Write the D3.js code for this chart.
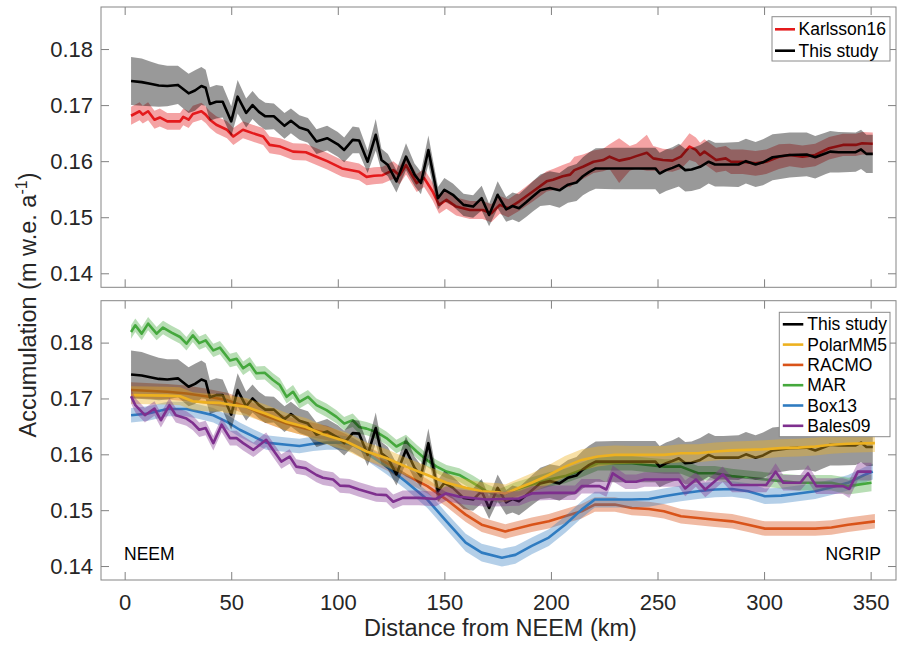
<!DOCTYPE html>
<html lang="en">
<head>
<meta charset="UTF-8">
<title>Accumulation from NEEM to NGRIP</title>
<script src="https://d3js.org/d3.v7.min.js"></script>
<style>
  body { margin: 0; background: #fff; font-family: "Liberation Sans", Arial, sans-serif; }
  .tick text { fill: #262626; font-size: 22px; font-family: "Liberation Sans", Arial, sans-serif; }
  .tick line { stroke: #808080; }
  .legend text { font-size: 17.5px; fill: #000; }
</style>
</head>
<body>
<svg id="chart" width="897" height="652"></svg>
<script>
// [distance km, accumulation m w.e./a, half-width of shaded band]
const thisStudy = [
  [3,0.1743,0.0043],[8,0.1741,0.0042],[12,0.1738,0.0040],[16,0.1735,0.0038],[20,0.1734,0.0036],
  [25,0.1736,0.0034],[30,0.1721,0.0035],[33,0.1726,0.0036],[36,0.1734,0.0034],[38,0.1731,0.0032],
  [40,0.1702,0.0030],[43,0.1706,0.0030],[46,0.1706,0.0028],[50,0.1671,0.0027],[53,0.1715,0.0030],
  [57,0.1686,0.0026],[60,0.1700,0.0025],[63,0.1688,0.0024],[66,0.1680,0.0024],[70,0.1680,0.0023],
  [75,0.1663,0.0023],[78,0.1672,0.0022],[82,0.1660,0.0022],[86,0.1655,0.0022],[90,0.1635,0.0022],
  [95,0.1641,0.0022],[100,0.1630,0.0022],[103,0.1620,0.0022],[107,0.1638,0.0024],[110,0.1637,0.0023],
  [114,0.1599,0.0020],[117.8,0.1647,0.0028],[120.5,0.1602,0.0020],[123.5,0.1593,0.0020],[127.5,0.1564,0.0020],
  [132,0.1608,0.0024],[136,0.1576,0.0020],[139,0.1561,0.0020],[142.5,0.1620,0.0026],[147,0.1534,0.0020],
  [150,0.1549,0.0021],[154,0.1540,0.0020],[159,0.1522,0.0020],[163.5,0.1519,0.0020],[167.5,0.1534,0.0022],
  [171,0.1504,0.0020],[175,0.1540,0.0024],[179,0.1514,0.0022],[182,0.1520,0.0024],[185,0.1516,0.0025],
  [188.5,0.1527,0.0026],[191.5,0.1537,0.0027],[195,0.1548,0.0028],[199.5,0.1552,0.0030],[204,0.1548,0.0031],
  [208,0.1558,0.0032],[212,0.1562,0.0033],[215,0.1573,0.0034],[218,0.1581,0.0035],[221,0.1587,0.0036],
  [230,0.1587,0.0037],[240,0.1587,0.0037],[249,0.1587,0.0037],[251,0.1578,0.0037],[254,0.1584,0.0037],
  [257,0.1588,0.0037],[260,0.1593,0.0038],[263,0.1584,0.0038],[266,0.1585,0.0038],[270,0.1590,0.0039],
  [274,0.1599,0.0039],[277,0.1594,0.0039],[281,0.1594,0.0039],[288,0.1594,0.0040],[291.5,0.1600,0.0040],
  [296,0.1594,0.0040],[299.5,0.1598,0.0041],[304,0.1607,0.0041],[312,0.1611,0.0040],[320,0.1612,0.0039],
  [324,0.1607,0.0038],[329,0.1614,0.0037],[331,0.1617,0.0037],[335,0.1616,0.0036],[343,0.1616,0.0035],
  [345.5,0.1621,0.0035],[348,0.1613,0.0034],[351,0.1613,0.0034]
];

const karlsson16 = [
  [3,0.1681,0.0016],[7,0.1689,0.0016],[8.5,0.1683,0.0016],[11,0.1689,0.0016],[14,0.1674,0.0016],
  [16.5,0.1678,0.0016],[20,0.1671,0.0015],[26,0.1671,0.0015],[27.5,0.1679,0.0015],[30,0.1674,0.0015],
  [32,0.1684,0.0015],[36,0.1689,0.0015],[38,0.1683,0.0015],[40,0.1674,0.0015],[43,0.1665,0.0015],
  [48,0.1656,0.0015],[51,0.1644,0.0015],[55.5,0.1656,0.0015],[60,0.1650,0.0015],[65,0.1644,0.0015],
  [68,0.1629,0.0015],[73,0.1626,0.0015],[79,0.1617,0.0015],[85,0.1616,0.0015],[90,0.1608,0.0015],
  [95,0.1600,0.0015],[102,0.1587,0.0015],[110,0.1581,0.0015],[113.5,0.1572,0.0015],[117,0.1574,0.0015],
  [121,0.1575,0.0015],[126,0.1584,0.0016],[129,0.1575,0.0016],[132,0.1593,0.0017],[137,0.1561,0.0016],
  [140.5,0.1570,0.0016],[144.5,0.1546,0.0016],[147.5,0.1522,0.0016],[151,0.1531,0.0016],[155.5,0.1519,0.0016],
  [162,0.1513,0.0016],[168,0.1513,0.0016],[172,0.1507,0.0016],[176,0.1522,0.0016],[180,0.1516,0.0016],
  [185,0.1528,0.0017],[191.5,0.1546,0.0018],[198,0.1564,0.0018],[201,0.1567,0.0019],[205.5,0.1573,0.0020],
  [209,0.1576,0.0022],[211,0.1584,0.0024],[215,0.1590,0.0022],[220,0.1599,0.0020],[224.5,0.1602,0.0020],
  [227.5,0.1608,0.0022],[232,0.1601,0.0040],[237,0.1605,0.0022],[240,0.1609,0.0022],[245,0.1615,0.0032],
  [248,0.1605,0.0022],[252.5,0.1602,0.0020],[257,0.1601,0.0020],[261,0.1608,0.0022],[265,0.1626,0.0024],
  [268,0.1620,0.0022],[270,0.1611,0.0022],[272,0.1617,0.0022],[277.5,0.1602,0.0022],[282,0.1605,0.0022],
  [284.5,0.1599,0.0022],[290,0.1599,0.0022],[296,0.1596,0.0022],[301,0.1599,0.0022],[307,0.1608,0.0022],
  [312,0.1611,0.0020],[318,0.1608,0.0020],[324,0.1611,0.0020],[330.5,0.1623,0.0020],[337,0.1629,0.0020],
  [343,0.1629,0.0020],[346,0.1632,0.0020],[351,0.1631,0.0020]
];

const polarMM5 = [
  [3,0.1706,0.0016],[20,0.1705,0.0016],[26,0.1704,0.0016],[32,0.1695,0.0016],[38,0.1693,0.0016],
  [45,0.1692,0.0016],[51,0.1688,0.0016],[57,0.1685,0.0016],[66,0.1673,0.0016],[76,0.1658,0.0016],
  [85,0.1649,0.0016],[93,0.1636,0.0016],[104,0.1623,0.0016],[113.5,0.1605,0.0016],[123,0.1593,0.0016],
  [132,0.1578,0.0016],[142,0.1563,0.0016],[151,0.1549,0.0016],[160,0.1540,0.0016],[167.5,0.1534,0.0016],
  [175.5,0.1532,0.0016],[178.6,0.1530,0.0016],[183,0.1537,0.0016],[191,0.1549,0.0017],[199,0.1563,0.0018],
  [206.6,0.1578,0.0019],[214.4,0.1590,0.0019],[222,0.1596,0.0018],[230,0.1599,0.0017],[238,0.1599,0.0016],
  [246,0.1599,0.0016],[253,0.1599,0.0016],[261,0.1602,0.0016],[269,0.1602,0.0016],[277,0.1605,0.0016],
  [285,0.1607,0.0016],[292.5,0.1608,0.0016],[300,0.1609,0.0016],[308,0.1611,0.0016],[316,0.1612,0.0016],
  [324,0.1614,0.0016],[331.6,0.1617,0.0016],[339.4,0.1619,0.0016],[352,0.1620,0.0016]
];

const racmo = [
  [3,0.1715,0.0014],[20,0.1712,0.0014],[29,0.1709,0.0014],[38,0.1704,0.0014],[48,0.1697,0.0013],
  [57,0.1685,0.0013],[66,0.1669,0.0013],[76,0.1655,0.0013],[85,0.1646,0.0013],[95,0.1638,0.0013],
  [104,0.1623,0.0013],[113.5,0.1602,0.0013],[123,0.1584,0.0013],[132,0.1563,0.0013],[142,0.1543,0.0013],
  [151,0.1519,0.0013],[160,0.1492,0.0013],[167.5,0.1474,0.0013],[178.6,0.1462,0.0013],[191,0.1474,0.0013],
  [199,0.1480,0.0013],[206.6,0.1489,0.0013],[214.4,0.1498,0.0013],[220.6,0.1510,0.0013],[230,0.1510,0.0013],
  [238,0.1504,0.0013],[246,0.1502,0.0013],[253,0.1498,0.0013],[261,0.1489,0.0013],[269,0.1486,0.0013],
  [277,0.1483,0.0013],[285,0.1480,0.0013],[292.5,0.1474,0.0013],[300.4,0.1467,0.0013],[308,0.1467,0.0013],
  [316,0.1467,0.0013],[324,0.1467,0.0013],[331.6,0.1469,0.0013],[339.4,0.1474,0.0013],[352,0.1480,0.0013]
];

const mar = [
  [3,0.1819,0.0012],[5,0.1831,0.0012],[8,0.1816,0.0012],[11,0.1834,0.0012],[15,0.1816,0.0012],
  [18,0.1827,0.0012],[22,0.1818,0.0012],[26,0.1810,0.0012],[29,0.1798,0.0012],[32,0.1813,0.0012],
  [35,0.1799,0.0012],[38,0.1804,0.0012],[41.6,0.1786,0.0012],[44.7,0.1791,0.0012],[49.4,0.1768,0.0012],
  [52.5,0.1771,0.0012],[55.6,0.1754,0.0012],[58.7,0.1762,0.0012],[61.8,0.1745,0.0012],[65.7,0.1746,0.0012],
  [69.6,0.1733,0.0012],[72.8,0.1724,0.0012],[76,0.1703,0.0012],[79,0.1712,0.0012],[82,0.1694,0.0012],
  [86,0.1703,0.0012],[90,0.1688,0.0012],[94.7,0.1679,0.0012],[99.4,0.1667,0.0012],[103,0.1655,0.0012],
  [107,0.1661,0.0012],[110,0.1649,0.0012],[113.5,0.1646,0.0012],[118,0.1640,0.0012],[122.8,0.1629,0.0012],
  [127.5,0.1614,0.0012],[132,0.1623,0.0012],[137,0.1605,0.0012],[141.7,0.1590,0.0012],[146.4,0.1578,0.0012],
  [151,0.1569,0.0012],[157,0.1563,0.0012],[163.4,0.1549,0.0013],[169.7,0.1534,0.0013],[175.5,0.1525,0.0013],
  [183.3,0.1537,0.0013],[191,0.1546,0.0013],[199,0.1555,0.0013],[206.6,0.1561,0.0013],[214.4,0.1572,0.0013],
  [222,0.1584,0.0013],[230,0.1584,0.0013],[238,0.1584,0.0013],[245.6,0.1581,0.0013],[253.4,0.1578,0.0013],
  [261,0.1578,0.0013],[269,0.1566,0.0013],[277,0.1566,0.0013],[284.7,0.1561,0.0013],[292.5,0.1558,0.0013],
  [300.4,0.1555,0.0013],[308,0.1552,0.0013],[316,0.1549,0.0014],[324,0.1549,0.0014],[331.6,0.1549,0.0014],
  [339.4,0.1543,0.0015],[350.4,0.1549,0.0015]
];

const box13 = [
  [3,0.1670,0.0013],[11,0.1673,0.0013],[20,0.1681,0.0013],[29,0.1681,0.0013],[35,0.1676,0.0013],
  [41.6,0.1670,0.0013],[48,0.1658,0.0013],[54,0.1644,0.0013],[60.4,0.1632,0.0013],[66.4,0.1621,0.0013],
  [76,0.1617,0.0013],[82,0.1615,0.0013],[88.5,0.1619,0.0013],[95,0.1621,0.0013],[101,0.1621,0.0013],
  [107,0.1617,0.0013],[113.5,0.1602,0.0013],[123,0.1578,0.0014],[132,0.1551,0.0014],[142,0.1519,0.0015],
  [151,0.1480,0.0015],[160,0.1442,0.0016],[167.5,0.1424,0.0016],[177,0.1415,0.0016],[183.3,0.1420,0.0016],
  [191,0.1436,0.0015],[199,0.1451,0.0015],[206.6,0.1474,0.0015],[214.4,0.1501,0.0015],[220.6,0.1519,0.0014],
  [230,0.1519,0.0014],[238,0.1519,0.0014],[246,0.1520,0.0014],[253,0.1525,0.0014],[261,0.1530,0.0014],
  [269,0.1534,0.0014],[277,0.1537,0.0014],[285,0.1538,0.0014],[292.5,0.1534,0.0014],[300.4,0.1525,0.0014],
  [308,0.1526,0.0014],[316,0.1530,0.0014],[324,0.1534,0.0014],[331.6,0.1541,0.0014],[339.4,0.1549,0.0014],
  [347,0.1563,0.0014],[351,0.1569,0.0014]
];

const bales09 = [
  [3,0.1704,0.0013],[5,0.1688,0.0013],[9.5,0.1670,0.0013],[14,0.1682,0.0013],[17,0.1661,0.0013],
  [21,0.1688,0.0013],[24,0.1670,0.0013],[29,0.1664,0.0013],[32,0.1656,0.0013],[35,0.1644,0.0013],
  [38,0.1647,0.0013],[41.6,0.1620,0.0013],[45.5,0.1653,0.0013],[49.4,0.1629,0.0013],[52.5,0.1629,0.0013],
  [55.6,0.1620,0.0013],[60.4,0.1608,0.0013],[66.4,0.1626,0.0013],[69.6,0.1608,0.0013],[73.5,0.1587,0.0013],
  [77.4,0.1596,0.0013],[80.5,0.1578,0.0013],[85,0.1575,0.0013],[90,0.1563,0.0013],[93,0.1558,0.0013],
  [97.8,0.1555,0.0013],[101,0.1544,0.0013],[105.5,0.1543,0.0013],[110,0.1537,0.0013],[118,0.1528,0.0013],
  [122.8,0.1527,0.0013],[126,0.1515,0.0013],[130.5,0.1522,0.0013],[138,0.1522,0.0013],[146,0.1520,0.0013],
  [150.8,0.1530,0.0013],[157,0.1524,0.0013],[169.7,0.1519,0.0013],[177,0.1520,0.0013],[185,0.1521,0.0013],
  [191,0.1530,0.0013],[199,0.1531,0.0013],[206.6,0.1531,0.0013],[211.3,0.1531,0.0013],[214.4,0.1543,0.0013],
  [222.8,0.1543,0.0013],[226,0.1537,0.0013],[229,0.1566,0.0014],[235,0.1551,0.0013],[240,0.1551,0.0013],
  [244,0.1555,0.0013],[260,0.1555,0.0013],[263,0.1539,0.0014],[268,0.1555,0.0013],[272.4,0.1537,0.0014],
  [280.6,0.1564,0.0014],[285,0.1545,0.0013],[301,0.1545,0.0013],[305.4,0.1569,0.0015],[309,0.1549,0.0014],
  [317,0.1549,0.0014],[320.6,0.1566,0.0015],[324.5,0.1543,0.0014],[337,0.1543,0.0014],[340,0.1538,0.0016],
  [344,0.1569,0.0016],[350.4,0.1569,0.0016]
];

const xTicks = [0, 50, 100, 150, 200, 250, 300, 350];
const yTicks = [0.14, 0.15, 0.16, 0.17, 0.18];

const svg = d3.select("#chart");
const left = 101, right = 896;

const x = d3.scaleLinear().domain([-11.1, 361.9]).range([left, right]);

function drawPanel(top, bottom, series, legendItems, legendBox, showXLabels) {
  const y = d3.scaleLinear().domain([0.1375, 0.1875]).range([bottom, top]);
  const g = svg.append("g");

  const area = d3.area()
    .x(d => x(d[0]))
    .y0(d => y(d[1] - d[2]))
    .y1(d => y(d[1] + d[2]));
  const line = d3.line()
    .x(d => x(d[0]))
    .y(d => y(d[1]));

  series.forEach(s => {
    g.append("path").datum(s.data)
      .attr("d", area)
      .attr("fill", s.band)
      .attr("fill-opacity", s.bandOpacity);
    g.append("path").datum(s.data)
      .attr("d", line)
      .attr("fill", "none")
      .attr("stroke", s.color)
      .attr("stroke-width", 2.6)
      .attr("stroke-linejoin", "round");
  });

  // axes, ticks pointing inward on all four sides
  const axL = g.append("g").attr("transform", `translate(${left},0)`)
    .call(d3.axisLeft(y).tickValues(yTicks).tickSize(-8).tickPadding(8).tickFormat(d3.format(".2f")));
  const axR = g.append("g").attr("transform", `translate(${right},0)`)
    .call(d3.axisRight(y).tickValues(yTicks).tickSize(-8).tickFormat(""));
  const axT = g.append("g").attr("transform", `translate(0,${top})`)
    .call(d3.axisTop(x).tickValues(xTicks).tickSize(-8).tickFormat(""));
  const axB = g.append("g").attr("transform", `translate(0,${bottom})`)
    .call(d3.axisBottom(x).tickValues(xTicks).tickSize(-8).tickPadding(14)
      .tickFormat(showXLabels ? d3.format("d") : ""));
  [axL, axR, axT, axB].forEach(a => a.select(".domain").remove());

  g.append("rect")
    .attr("x", left).attr("y", top)
    .attr("width", right - left).attr("height", bottom - top)
    .attr("fill", "none").attr("stroke", "#858585").attr("stroke-width", 1);

  // legend
  const lg = g.append("g").attr("class", "legend");
  lg.append("rect")
    .attr("x", legendBox.x0).attr("y", legendBox.y0)
    .attr("width", legendBox.x1 - legendBox.x0).attr("height", legendBox.y1 - legendBox.y0)
    .attr("fill", "#fff").attr("stroke", "#8a8a8a").attr("stroke-width", 1);
  legendItems.forEach((s, i) => {
    const cy = legendBox.y0 + legendBox.first + i * legendBox.step;
    lg.append("line")
      .attr("x1", legendBox.x0 + legendBox.lineFrom).attr("x2", legendBox.x0 + legendBox.lineTo)
      .attr("y1", cy).attr("y2", cy)
      .attr("stroke", s.color).attr("stroke-width", 2.6);
    lg.append("text")
      .attr("x", legendBox.x0 + legendBox.textAt).attr("y", cy).attr("dy", "0.35em")
      .text(s.name);
  });
  return y;
}

const black = { name: "This study", data: thisStudy, color: "#000000", band: "#000000", bandOpacity: 0.4 };
const red = { name: "Karlsson16", data: karlsson16, color: "#e41a1c", band: "#e41a1c", bandOpacity: 0.4 };
const orange = { name: "PolarMM5", data: polarMM5, color: "#EDB120", band: "#EDB120", bandOpacity: 0.4 };
const brick = { name: "RACMO", data: racmo, color: "#D95319", band: "#D95319", bandOpacity: 0.4 };
const green = { name: "MAR", data: mar, color: "#45a83d", band: "#45a83d", bandOpacity: 0.38 };
const blue = { name: "Box13", data: box13, color: "#2f7bc0", band: "#2f7bc0", bandOpacity: 0.36 };
const purple = { name: "Bales09", data: bales09, color: "#7E2F8E", band: "#7E2F8E", bandOpacity: 0.38 };

drawPanel(7, 287.3, [red, black], [red, black],
  { x0: 772, y0: 16.7, x1: 890, y1: 61, first: 12.6, step: 21.4, lineFrom: 3, lineTo: 23, textAt: 26.5 },
  false);

const yb = drawPanel(300.7, 580, [brick, blue, green, black, orange, purple],
  [black, orange, brick, green, blue, purple],
  { x0: 779.3, y0: 312.3, x1: 890, y1: 436.7, first: 12, step: 20.3, lineFrom: 3.5, lineTo: 24, textAt: 28 },
  true);

// site labels
svg.append("text").attr("x", 124).attr("y", 560)
  .attr("font-size", 17.5).attr("fill", "#000").text("NEEM");
svg.append("text").attr("x", 881).attr("y", 560).attr("text-anchor", "end")
  .attr("font-size", 17.5).attr("fill", "#000").text("NGRIP");

// axis titles
svg.append("text")
  .attr("x", 500.5).attr("y", 636)
  .attr("text-anchor", "middle").attr("font-size", 23.5).attr("fill", "#262626")
  .text("Distance from NEEM (km)");

const yl = svg.append("text")
  .attr("transform", "translate(36,305) rotate(-90)")
  .attr("text-anchor", "middle").attr("font-size", 23.5).attr("fill", "#262626");
yl.append("tspan").text("Accumulation (m w.e. a");
yl.append("tspan").attr("dy", -9).attr("font-size", 16).text("-1");
yl.append("tspan").attr("dy", 9).text(")");
</script>
</body>
</html>
